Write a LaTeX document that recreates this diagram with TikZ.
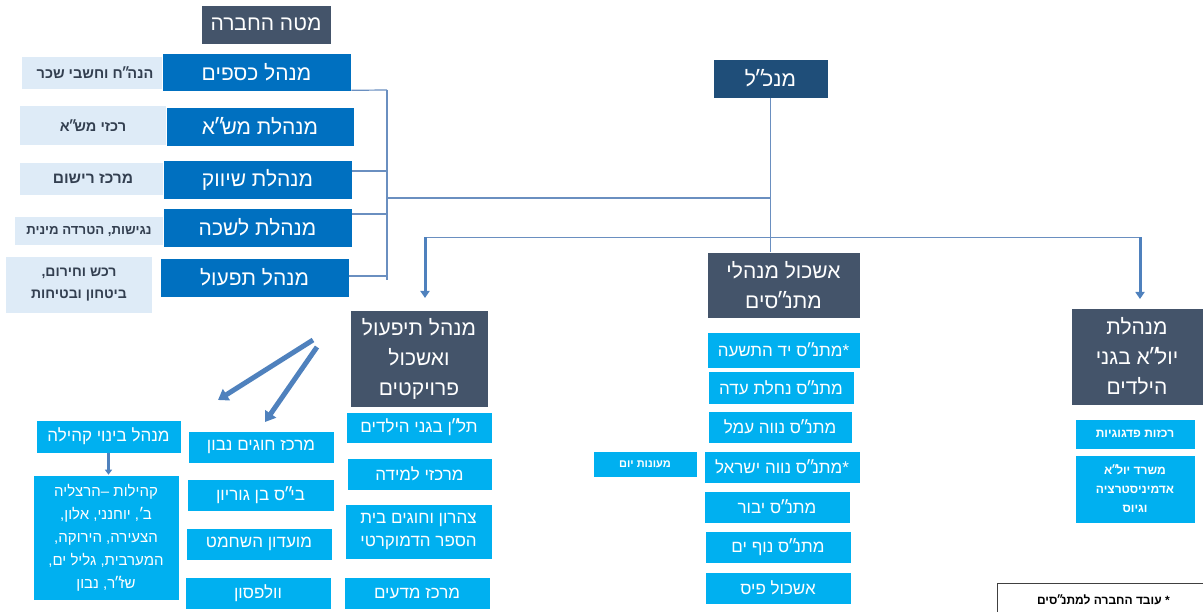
\documentclass[tikz,border=0pt]{standalone}
\usepackage{fontspec}
\TeXXeTstate=1
\newfontfamily\hebf[Script=Hebrew]{Liberation Sans}
\usetikzlibrary{arrows.meta}
\definecolor{slate}{HTML}{44546A}
\definecolor{navy}{HTML}{1F4E79}
\definecolor{mblue}{HTML}{0070C0}
\definecolor{lightb}{HTML}{DEEBF7}
\definecolor{cyanb}{HTML}{00B0F0}
\definecolor{connc}{HTML}{6A8FC0}
\definecolor{arrc}{HTML}{4F81BD}
\definecolor{subtext}{HTML}{333F50}
\newcommand{\hl}[1]{\beginR #1\endR}
\newcommand{\gr}{\kern-0.2em ״\kern-0.1em}
\newcommand{\gsh}{\kern-0.1em ׳\kern-0.04em}
\begin{document}
\begin{tikzpicture}[x=1pt,y=-1pt,
  box/.style={rectangle, inner sep=0pt, align=center, anchor=center, text=white},
  big/.style={font=\hebf\fontsize{21}{30}\selectfont},
  med/.style={font=\hebf\fontsize{17}{22}\selectfont},
  sml/.style={font=\hebf\bfseries\fontsize{12}{19}\selectfont},
  darkbox/.style={box, fill=slate, draw=white, line width=0.6pt, big},
  navybox/.style={box, fill=navy, draw=white, line width=0.6pt, big},
  bluebox/.style={box, fill=mblue, draw=white, line width=0.6pt, big},
  lightbox/.style={box, fill=lightb, text=subtext, font=\hebf\bfseries\fontsize{14.5}{22}\selectfont},
  cyanbox/.style={box, fill=cyanb, draw=white, line width=0.6pt, med},
  conn/.style={draw=connc, line width=1.2pt},
  blockarrow/.style={draw=arrc, line width=3pt, -{Triangle[width=9pt,length=7pt]}},
  bigarrow/.style={draw=arrc, line width=5pt, -{Triangle[width=13pt,length=10pt]}}]
\useasboundingbox (0,0) rectangle (1203,612);

% --- company staff ---
\node[darkbox, minimum width=130pt, minimum height=39pt] (mate) at (266,24.5) {\hl{מטה החברה}};

\node[lightbox, minimum width=146pt, minimum height=32pt] (kesafimsub) at (95,73) {\hl{הנה\gr ח וחשבי שכר}};
\node[bluebox, minimum width=189pt, minimum height=38pt] (kesafim) at (256.5,72) {\hl{מנהל כספים}};

\node[lightbox, minimum width=146pt, minimum height=39pt] (mashasub) at (93,125.5) {\hl{רכזי מש\gr א}};
\node[bluebox, minimum width=188pt, minimum height=39pt] (masha) at (260,126.5) {\hl{מנהלת מש\gr א}};

\node[lightbox, minimum width=146pt, minimum height=32pt, font=\hebf\bfseries\fontsize{15.5}{22}\selectfont] (shivuksub) at (93,179) {\hl{מרכז רישום}};
\node[bluebox, minimum width=189pt, minimum height=39pt] (shivuk) at (257.5,179.5) {\hl{מנהלת שיווק}};

\node[lightbox, minimum width=148pt, minimum height=28pt, font=\hebf\bfseries\fontsize{13.2}{18}\selectfont] (lishkasub) at (89,231) {\hl{נגישות, הטרדה מינית}};
\node[bluebox, minimum width=189pt, minimum height=39pt] (lishka) at (257.5,227.5) {\hl{מנהלת לשכה}};

\node[lightbox, minimum width=146pt, minimum height=56pt, font=\hebf\bfseries\fontsize{14}{22}\selectfont] (tifulsub) at (79,285) {\hl{רכש וחירום,}\\\hl{ביטחון ובטיחות}};
\node[bluebox, minimum width=189pt, minimum height=39pt] (tiful) at (254.5,277.5) {\hl{מנהל תפעול}};

% staff bus
\coordinate (bustop) at (387,90);
\coordinate (busbot) at (387,280);
\coordinate (busmid) at (387,198);
\draw[conn] (bustop) -- (busbot);
\draw[conn] (kesafim.south east) ++(0,-1) -- (bustop);
\draw[conn] (shivuk.east |- 0,171) -- (bustop |- 0,171);
\draw[conn] (lishka.east |- 0,214) -- (bustop |- 0,214);
\draw[conn] (tiful.east |- 0,276) -- (bustop |- 0,276);

% --- CEO ---
\node[navybox, minimum width=115pt, minimum height=39pt] (mankal) at (770.5,78.5) {\hl{מנכ\gr ל}};
\node[darkbox, minimum width=153pt, minimum height=66pt] (eshkol) at (783.5,285) {\hl{אשכול מנהלי}\\\hl{מתנ\gr סים}};
\draw[conn] (mankal.south) -- (mankal.south |- eshkol.north);
\draw[conn] (busmid) -- (mankal.south |- busmid);

% --- project manager ---
\node[darkbox, minimum width=138pt, minimum height=97pt] (proj) at (419,358.5) {\hl{מנהל תיפעול}\\\hl{ואשכול}\\\hl{פרויקטים}};
\node[cyanbox, minimum width=146pt, minimum height=31pt] (talan) at (419,427.5) {\hl{תל\gr ן בגני הילדים}};
\node[cyanbox, minimum width=145pt, minimum height=32pt] (lemida) at (419.5,474) {\hl{מרכזי למידה}};
\node[cyanbox, minimum width=147pt, minimum height=55pt, font=\hebf\fontsize{17}{23}\selectfont] (tzaharon) at (418.5,531.5) {\hl{צהרון וחוגים בית}\\\hl{הספר הדמוקרטי}};
\node[cyanbox, minimum width=146pt, minimum height=32pt] (mada) at (417,593) {\hl{מרכז מדעים}};

% --- kindergartens ---
\node[darkbox, minimum width=132pt, minimum height=97pt] (yula) at (1137,356.5) {\hl{מנהלת}\\\hl{יול\gr א בגני}\\\hl{הילדים}};
\node[cyanbox, minimum width=120pt, minimum height=30pt, sml] (rakazot) at (1135,434) {\hl{רכזות פדגוגיות}};
\node[cyanbox, minimum width=120pt, minimum height=68pt, sml] (misrad) at (1135,489) {\hl{משרד יול\gr א}\\\hl{אדמיניסטרציה}\\\hl{וגיוס}};

% main bus with arrows
\coordinate (mainleft) at (425,237.5);
\coordinate (mainright) at (1140,237.5);
\draw[conn] (mainleft) -- (mainright);
\draw[blockarrow] (mainleft) -- (mainleft |- 0,298);
\draw[blockarrow] (mainright) -- (mainright |- 0,299);

% --- community centres ---
\node[cyanbox, minimum width=153pt, minimum height=36pt] (yad) at (783.5,350) {\hl{*מתנ\gr ס יד התשעה}};
\node[cyanbox, minimum width=146pt, minimum height=33pt] (nachlat) at (781,387.5) {\hl{מתנ\gr ס נחלת עדה}};
\node[cyanbox, minimum width=144pt, minimum height=32pt] (amal) at (780,427) {\hl{מתנ\gr ס נווה עמל}};
\node[cyanbox, minimum width=156pt, minimum height=32pt] (israel) at (782,467) {\hl{*מתנ\gr ס נווה ישראל}};
\node[cyanbox, minimum width=146pt, minimum height=32pt] (yavor) at (777,507) {\hl{מתנ\gr ס יבור}};
\node[cyanbox, minimum width=146pt, minimum height=32pt] (nofyam) at (778,547) {\hl{מתנ\gr ס נוף ים}};
\node[cyanbox, minimum width=146pt, minimum height=32pt] (pais) at (778,588) {\hl{אשכול פיס}};
\node[cyanbox, minimum width=104pt, minimum height=26pt, font=\hebf\bfseries\fontsize{11}{14}\selectfont] (maonot) at (645,464) {\hl{מעונות יום}};

% --- left group ---
\node[cyanbox, minimum width=146pt, minimum height=32pt] (chugim) at (261,447) {\hl{מרכז חוגים נבון}};
\node[cyanbox, minimum width=147pt, minimum height=32pt] (bengurion) at (260.5,495) {\hl{בי\gr ס בן גוריון}};
\node[cyanbox, minimum width=146pt, minimum height=32pt] (shachmat) at (259,544) {\hl{מועדון השחמט}};
\node[cyanbox, minimum width=146pt, minimum height=32pt] (wolfson) at (258,593) {\hl{וולפסון}};
\node[cyanbox, minimum width=145pt, minimum height=33pt] (binui) at (108.5,436.5) {\hl{מנהל בינוי קהילה}};
\node[cyanbox, minimum width=146pt, minimum height=125pt, font=\hebf\fontsize{15}{23}\selectfont] (kehilot) at (106,537.5) {\hl{קהילות –הרצליה}\\\hl{ב\gsh, יוחנני, אלון,}\\\hl{הצעירה, הירוקה,}\\\hl{המערבית, גליל ים,}\\\hl{שז\gr ר, נבון}};
\draw[draw=arrc, line width=2.5pt, -{Triangle[width=7pt,length=5pt]}] (binui.south) -- (binui.south |- kehilot.north);

% diagonal arrows from project box
\coordinate (fork1) at (313,340);
\coordinate (fork2) at (317,347);
\draw[bigarrow] (fork1) -- (218,400);
\draw[bigarrow] (fork2) -- (265,422);

% --- footnote ---
\node[draw=black!75, line width=0.8pt, fill=white, minimum width=212pt, minimum height=32pt, inner sep=0pt, anchor=north west, font=\hebf\bfseries\fontsize{12}{14}\selectfont] (note) at (997,583) {\hl{* עובד החברה למתנ\gr סים}};
\end{tikzpicture}
\end{document}
